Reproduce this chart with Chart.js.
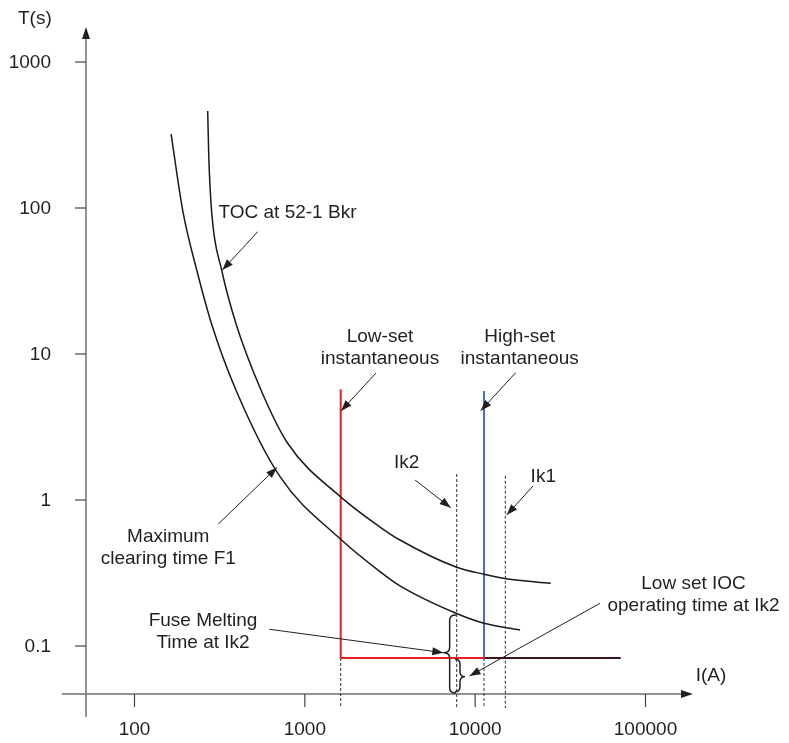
<!DOCTYPE html>
<html>
<head>
<meta charset="utf-8">
<title>Overcurrent coordination – time/current curves</title>
<script src="https://cdn.jsdelivr.net/npm/chart.js@4.4.1/dist/chart.umd.min.js"></script>
<style>
  html, body { margin: 0; padding: 0; background: #fff; }
  #wrap { position: relative; width: 789px; height: 743px; }
</style>
</head>
<body>
<div id="wrap"><canvas id="tcc"></canvas></div>
<script>
// --- data (current in A, time in s) ---------------------------------------
var TOC_I = [269, 273, 284, 325, 394, 553, 791, 1624, 2762, 3620, 7791, 11270, 15180, 27770];
var TOC_T = [462, 225, 92.9, 37.6, 16.2, 5.67, 2.457, 1.05, 0.653, 0.532, 0.346, 0.310, 0.289, 0.269];

var FUSE_I = [164, 193, 232, 283, 394, 715, 1624, 2762, 3620, 7718, 11270, 18340];
var FUSE_T = [321, 92.9, 37.6, 16.2, 5.67, 1.444, 0.538, 0.323, 0.258, 0.1675, 0.143, 0.1287];

var LOWSET_I = [1624, 1624, 11270];
var LOWSET_T = [5.73, 0.0828, 0.0828];
var HIGHSET_I = [11270, 11270];
var HIGHSET_T = [5.58, 0.0828];
var TAIL_I = [11270, 71530];
var TAIL_T = [0.0828, 0.0828];

// dashed markers: low-set pickup, Ik2, high-set pickup, Ik1
var DASH_I = [1624, 7790, 11270, 15030];
var DASH_TOP = [0.0828, 1.507, 0.0828, 1.467];
var DASH_BOTTOM = 0.0376;

var X_TICKS = [100, 1000, 10000, 100000];
var X_LABELS = ['100', '1000', '10000', '100000'];
var Y_TICKS = [0.1, 1, 10, 100, 1000];
var Y_LABELS = ['0.1', '1', '10', '100', '1000'];

// where the two axes cross, and how far they run
var AXIS_I = 51.9, AXIS_T = 0.0469;
var X_AXIS_FROM = 37.5, X_AXIS_TO = 190100;
var Y_AXIS_FROM = 0.0326, Y_AXIS_TO = 1737;

// --- annotations, anchored in data units ----------------------------------
var NOTES = [
  { lines: ['T(s)'], I: 26.0, T: 1970 },
  { lines: ['I(A)'], I: 242400, T: 0.0628 },
  { lines: ['TOC at 52-1 Bkr'], I: 791, T: 92.4 },
  { lines: ['Low-set', 'instantaneous'], I: 2762, T: 10.99 },
  { lines: ['High-set', 'instantaneous'], I: 18260, T: 10.99 },
  { lines: ['Ik2'], I: 3963, T: 1.792 },
  { lines: ['Ik1'], I: 25120, T: 1.444 },
  { lines: ['Maximum', 'clearing time F1'], I: 157.9, T: 0.469 },
  { lines: ['Fuse Melting', 'Time at Ik2'], I: 252.5, T: 0.1261 },
  { lines: ['Low set IOC', 'operating time at Ik2'], I: 191400, T: 0.2260 }
];
// [tail I, tail T, head I, head T]
var POINTERS = [
  [529, 68.8, 328, 37.6],
  [2617, 7.41, 1631, 4.07],
  [17300, 7.45, 10780, 4.09],
  [4436, 1.371, 7184, 0.886],
  [21860, 1.247, 15320, 0.789],
  [310.5, 0.685, 686.6, 1.672],
  [618.5, 0.1302, 6501, 0.0900],
  [54060, 0.1961, 9264, 0.0623]
];
// [end I, top T, bottom T, tip I, tip T]
var BRACES = [
  [7718, 0.1631, 0.0477, 6501, 0.0900],
  [7616, 0.0811, 0.0486, 8716, 0.0616]
];

var INK = '#231f20';
var FONT = '19px "Liberation Sans", Arial, Helvetica, sans-serif';

function pts(xs, ys) {
  return xs.map(function (x, i) { return { x: x, y: ys[i] }; });
}

function arrowHead(ctx, x1, y1, x2, y2, len, half) {
  var a = Math.atan2(y2 - y1, x2 - x1);
  var c = Math.cos(a), s = Math.sin(a);
  ctx.beginPath();
  ctx.moveTo(x2, y2);
  ctx.lineTo(x2 - len * c + half * s, y2 - len * s - half * c);
  ctx.lineTo(x2 - len * c - half * s, y2 - len * s + half * c);
  ctx.closePath();
  ctx.fill();
}

var decorations = {
  id: 'decorations',
  beforeDatasetsDraw: function (chart) {
    var ctx = chart.ctx, sx = chart.scales.x, sy = chart.scales.y;
    var ax = sx.getPixelForValue(AXIS_I), ay = sy.getPixelForValue(AXIS_T);
    ctx.save();
    ctx.strokeStyle = '#6d6e71';
    ctx.fillStyle = INK;
    ctx.lineWidth = 1.5;

    // axes with arrow heads
    var yTop = sy.getPixelForValue(Y_AXIS_TO), yBot = sy.getPixelForValue(Y_AXIS_FROM);
    ctx.beginPath(); ctx.moveTo(ax, yBot); ctx.lineTo(ax, yTop + 6); ctx.stroke();
    arrowHead(ctx, ax, yBot, ax, yTop, 12, 4);
    var xL = sx.getPixelForValue(X_AXIS_FROM), xR = sx.getPixelForValue(X_AXIS_TO);
    ctx.beginPath(); ctx.moveTo(xL, ay); ctx.lineTo(xR - 6, ay); ctx.stroke();
    arrowHead(ctx, xL, ay, xR, ay, 12, 4);

    // ticks + labels
    ctx.lineWidth = 1.2;
    ctx.strokeStyle = '#444';
    ctx.font = FONT;
    ctx.textBaseline = 'middle';
    ctx.textAlign = 'center';
    X_TICKS.forEach(function (v, i) {
      var x = sx.getPixelForValue(v);
      ctx.beginPath(); ctx.moveTo(x, ay); ctx.lineTo(x, ay + 13); ctx.stroke();
      ctx.fillText(X_LABELS[i], x, ay + 36);
    });
    ctx.textAlign = 'right';
    Y_TICKS.forEach(function (v, i) {
      var y = sy.getPixelForValue(v);
      ctx.beginPath(); ctx.moveTo(ax - 11, y); ctx.lineTo(ax, y); ctx.stroke();
      ctx.fillText(Y_LABELS[i], ax - 35, y + 1);
    });
    ctx.restore();
  },
  afterDatasetsDraw: function (chart) {
    var ctx = chart.ctx, sx = chart.scales.x, sy = chart.scales.y;
    ctx.save();
    ctx.fillStyle = INK;
    ctx.strokeStyle = INK;
    ctx.font = FONT;
    ctx.textAlign = 'center';
    ctx.textBaseline = 'middle';

    NOTES.forEach(function (n) {
      var x = sx.getPixelForValue(n.I), y = sy.getPixelForValue(n.T);
      var lh = 22, y0 = y - (n.lines.length - 1) * lh / 2;
      n.lines.forEach(function (t, k) { ctx.fillText(t, x, y0 + k * lh); });
    });

    ctx.lineWidth = 1;
    POINTERS.forEach(function (p) {
      var x1 = sx.getPixelForValue(p[0]), y1 = sy.getPixelForValue(p[1]);
      var x2 = sx.getPixelForValue(p[2]), y2 = sy.getPixelForValue(p[3]);
      ctx.beginPath(); ctx.moveTo(x1, y1); ctx.lineTo(x2, y2); ctx.stroke();
      arrowHead(ctx, x1, y1, x2, y2, 11, 4);
    });

    // curly braces marking the two operating times at Ik2
    ctx.lineWidth = 1.5;
    BRACES.forEach(function (b) {
      var xe = sx.getPixelForValue(b[0]), xt = sx.getPixelForValue(b[3]);
      var yt = sy.getPixelForValue(b[1]), yb = sy.getPixelForValue(b[2]), ym = sy.getPixelForValue(b[4]);
      var xs = (xe + xt) / 2, r = 5;
      ctx.beginPath();
      ctx.moveTo(xe, yt);
      ctx.quadraticCurveTo(xs, yt, xs, yt + r);
      ctx.lineTo(xs, ym - r);
      ctx.quadraticCurveTo(xs, ym, xt, ym);
      ctx.quadraticCurveTo(xs, ym, xs, ym + r);
      ctx.lineTo(xs, yb - r);
      ctx.quadraticCurveTo(xs, yb, xe, yb);
      ctx.stroke();
    });
    ctx.restore();
  }
};

var datasets = [
  { data: pts(TOC_I, TOC_T), borderColor: '#1a1a1a', borderWidth: 1.5, cubicInterpolationMode: 'monotone' },
  { data: pts(FUSE_I, FUSE_T), borderColor: '#1a1a1a', borderWidth: 1.5, cubicInterpolationMode: 'monotone' },
  { data: pts(LOWSET_I, LOWSET_T), borderColor: '#ed1c24', borderWidth: 2 },
  { data: pts(HIGHSET_I, HIGHSET_T), borderColor: '#4472c4', borderWidth: 2 },
  { data: pts(TAIL_I, TAIL_T), borderColor: '#3d1518', borderWidth: 2 }
];
DASH_I.forEach(function (x, i) {
  datasets.push({
    data: [{ x: x, y: DASH_TOP[i] }, { x: x, y: DASH_BOTTOM }],
    borderColor: '#333', borderWidth: 1, borderDash: [3, 2]
  });
});
datasets.forEach(function (d) {
  d.showLine = true;
  d.pointRadius = 0;
  d.fill = false;
  d.clip = false;
});

new Chart(document.getElementById('tcc'), {
  type: 'scatter',
  data: { datasets: datasets },
  options: {
    responsive: true,
    maintainAspectRatio: false,
    animation: false,
    layout: { padding: 0 },
    plugins: { legend: { display: false }, tooltip: { enabled: false } },
    scales: {
      // ranges chosen so the canvas spans the same decades as the figure
      x: { type: 'logarithmic', min: 16.234, max: 695850, display: false },
      y: { type: 'logarithmic', min: 0.021661, max: 2658.6, display: false }
    }
  },
  plugins: [decorations]
});
</script>
</body>
</html>
